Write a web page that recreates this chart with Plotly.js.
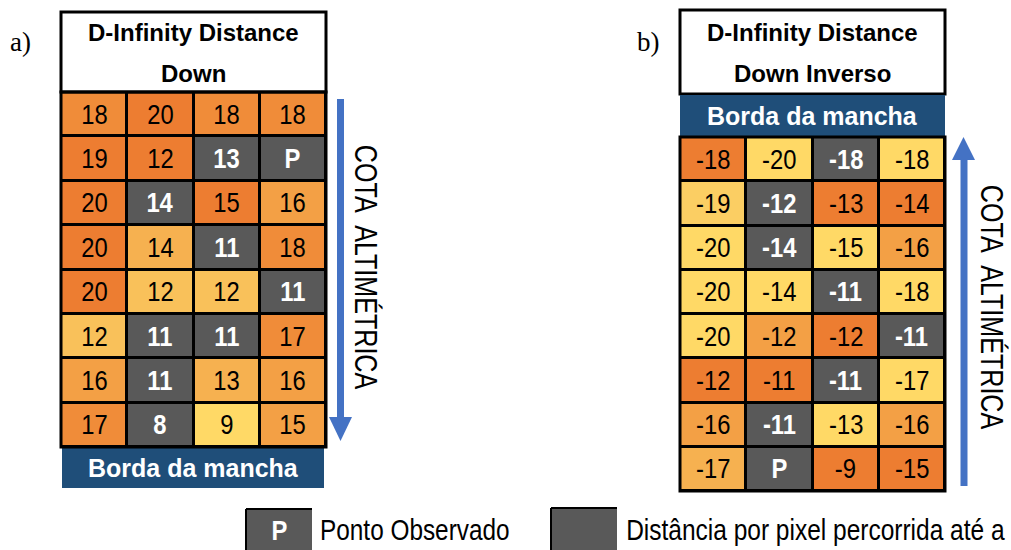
<!DOCTYPE html>
<html><head><meta charset="utf-8">
<script src="https://cdn.plot.ly/plotly-3.0.1.min.js"></script>
<style>html,body{margin:0;padding:0;background:#fff;}#chart{width:1011px;height:550px;}</style>
</head><body><div id="chart"></div>
<script>
// ---- data ----
const columns = [0, 1, 2, 3];
const rows = [0, 1, 2, 3, 4, 5, 6, 7];
const valuesDown = [
  [18, 20, 18, 18],
  [19, 12, 13, 'P'],
  [20, 14, 15, 16],
  [20, 14, 11, 18],
  [20, 12, 12, 11],
  [12, 11, 11, 17],
  [16, 11, 13, 16],
  [17, 8, 9, 15]
];
const valuesInverso = [
  [-18, -20, -18, -18],
  [-19, -12, -13, -14],
  [-20, -14, -15, -16],
  [-20, -14, -11, -18],
  [-20, -12, -12, -11],
  [-12, -11, -11, -17],
  [-16, -11, -13, -16],
  [-17, 'P', -9, -15]
];
// colour class of each cell (7 = grey path cell)
const levelsDown = [
  [1, 0, 1, 1],
  [0, 0, 7, 7],
  [0, 7, 0, 2],
  [0, 3, 7, 1],
  [0, 4, 4, 7],
  [4, 7, 7, 1],
  [2, 7, 3, 2],
  [1, 7, 6, 2]
];
const levelsInverso = [
  [0, 6, 7, 6],
  [5, 7, 0, 0],
  [6, 7, 6, 2],
  [6, 6, 7, 6],
  [6, 2, 0, 7],
  [0, 0, 7, 6],
  [2, 7, 6, 2],
  [3, 7, 0, 0]
];
const titleDown = ['D-Infinity Distance', 'Down'];
const titleInverso = ['D-Infinity Distance', 'Down Inverso'];
const bordaLabel = 'Borda da mancha';
const cotaLabel = 'COTA\u00A0 ALTIMÉTRICA';
const legendLabels = ['Ponto Observado', 'Distância por pixel percorrida até a'];

// ---- style ----
const palette = ['#ED7D31', '#F08C39', '#F3A045', '#F6B150', '#F9C15A', '#FBCE63', '#FFD966', '#595959'];
const GREY = 7;
const W = 1011, H = 550;
const px = x => x / W, py = y => 1 - y / H;
const ARIAL = "'Liberation Sans',Arial,sans-serif";
const SERIF = "'Liberation Serif','Times New Roman',serif";
const BLUE = '#4472C4', NAVY = '#1F4E79';

const colorscale = palette.map((c, i) => [i / (palette.length - 1), c]);

function heat(levels, xa, ya) {
  return {
    type: 'heatmap', x: columns, y: rows, z: levels,
    xaxis: xa, yaxis: ya, zmin: 0, zmax: palette.length - 1,
    colorscale: colorscale, showscale: false, xgap: 3, ygap: 3, hoverinfo: 'skip'
  };
}

const annotations = [];
const narrow = {};   // annotation index -> [scaleX, origin]
function cellText(values, levels, xref, yref) {
  rows.forEach(r => columns.forEach(c => {
    const grey = levels[r][c] === GREY;
    narrow[annotations.length] = [0.85, '50% 50%'];
    annotations.push({
      xref: xref, yref: yref, x: c, y: r, showarrow: false,
      text: grey ? '<b>' + values[r][c] + '</b>' : String(values[r][c]),
      font: { family: ARIAL, size: 28, color: grey ? '#FFFFFF' : '#000000' },
      xanchor: 'center', yanchor: 'middle'
    });
  }));
}
cellText(valuesDown, levelsDown, 'x', 'y');
cellText(valuesInverso, levelsInverso, 'x2', 'y2');

function label(text, x, y, font, extra, squeeze) {
  if (squeeze) narrow[annotations.length] = squeeze;
  annotations.push(Object.assign({
    xref: 'paper', yref: 'paper', x: px(x), y: py(y), text: text, showarrow: false,
    xanchor: 'center', yanchor: 'middle', font: font
  }, extra || {}));
}
const headFont = { family: ARIAL, size: 24, color: '#000' };
label('<b>' + titleDown[0] + '</b>', 193.5, 32, headFont);
label('<b>' + titleDown[1] + '</b>', 193.5, 74, headFont);
label('<b>' + titleInverso[0] + '</b>', 812.5, 32, headFont);
label('<b>' + titleInverso[1] + '</b>', 812.5, 74, headFont);
const bordaFont = { family: ARIAL, size: 25, color: '#FFFFFF' };
label('<b>' + bordaLabel + '</b>', 193, 468, bordaFont);
label('<b>' + bordaLabel + '</b>', 812.5, 116, bordaFont);
const cotaFont = { family: ARIAL, size: 31, color: '#000' };
label(cotaLabel, 366, 267, cotaFont, { textangle: 90 }, [0.81, '50% 50%']);
label(cotaLabel, 992, 307, cotaFont, { textangle: 90 }, [0.81, '50% 50%']);
const serifFont = { family: SERIF, size: 27, color: '#000' };
label('a)', 20, 42, serifFont);
label('b)', 648, 42, serifFont);
label('<b>P</b>', 279, 530, { family: ARIAL, size: 28, color: '#FFFFFF' }, null, [0.85, '50% 50%']);
const legFont = { family: ARIAL, size: 29, color: '#000' };
label(legendLabels[0], 318, 530, legFont, { xanchor: 'left' }, [0.84, '0% 50%']);
label(legendLabels[1], 624, 530, legFont, { xanchor: 'left' }, [0.845, '0% 50%']);

function rect(x0, y0, x1, y1, fill, lineW, lineC, layer) {
  return { type: 'rect', xref: 'paper', yref: 'paper', x0: px(x0), x1: px(x1), y0: py(y0), y1: py(y1),
    fillcolor: fill, line: { width: lineW, color: lineC || '#000' }, layer: layer || 'above' };
}
function seg(x0, y0, x1, y1, w, c) {
  return { type: 'line', xref: 'paper', yref: 'paper', x0: px(x0), x1: px(x1), y0: py(y0), y1: py(y1),
    line: { width: w, color: c } };
}
function tri(a, b, c, color) {
  const p = pt => px(pt[0]) + ',' + py(pt[1]);
  return { type: 'path', xref: 'paper', yref: 'paper', path: 'M' + p(a) + ' L' + p(b) + ' L' + p(c) + ' Z',
    fillcolor: color, line: { width: 0 } };
}
const shapes = [
  rect(61, 12, 326, 92, '#FFFFFF', 3),
  rect(680, 10, 945, 94, '#FFFFFF', 3),
  rect(62, 448, 324, 488, NAVY, 0),
  rect(680, 95, 945, 137, NAVY, 0),
  rect(61, 92, 326, 447, 'rgba(0,0,0,0)', 3),
  rect(680, 137, 945, 491, 'rgba(0,0,0,0)', 3),
  seg(340.5, 99, 340.5, 420, 7, BLUE),
  tri([329, 417], [352, 417], [340.5, 441], BLUE),
  seg(964, 158, 964, 486, 7, BLUE),
  tri([952, 160], [975, 160], [963.5, 137], BLUE),
  rect(246, 509, 312, 556, '#595959', 0),
  seg(246, 509, 312, 509, 2, '#000'),
  seg(246, 509, 246, 556, 2, '#000'),
  rect(551, 508, 617, 556, '#595959', 0),
  seg(551, 508, 617, 508, 2, '#000'),
  seg(551, 508, 551, 556, 2, '#000')
];

const hidden = { showgrid: false, zeroline: false, showticklabels: false, ticks: '', showline: false, fixedrange: true };
const layout = {
  width: W, height: H, margin: { l: 0, r: 0, t: 0, b: 0 },
  paper_bgcolor: '#FFFFFF', plot_bgcolor: '#000000', showlegend: false,
  xaxis: Object.assign({ domain: [px(61), px(326)], range: [-0.5, 3.5], anchor: 'y' }, hidden),
  yaxis: Object.assign({ domain: [py(447), py(92)], range: [7.5, -0.5], anchor: 'x' }, hidden),
  xaxis2: Object.assign({ domain: [px(680), px(945)], range: [-0.5, 3.5], anchor: 'y2' }, hidden),
  yaxis2: Object.assign({ domain: [py(491), py(137)], range: [7.5, -0.5], anchor: 'x2' }, hidden),
  annotations: annotations, shapes: shapes
};

// condense the texts that use a narrow face in the original (Arial Narrow look)
function condense(gd) {
  gd.querySelectorAll('g.annotation').forEach(g => {
    const n = narrow[+g.getAttribute('data-index')];
    if (!n) return;
    const t = g.querySelector('text.annotation-text');
    if (!t) return;
    t.style.transformBox = 'fill-box';
    t.style.transformOrigin = n[1];
    t.style.transform = 'scaleX(' + n[0] + ')';
  });
}

Plotly.newPlot('chart', [heat(levelsDown, 'x', 'y'), heat(levelsInverso, 'x2', 'y2')], layout,
  { displayModeBar: false, staticPlot: true }).then(condense);
</script>
</body></html>
